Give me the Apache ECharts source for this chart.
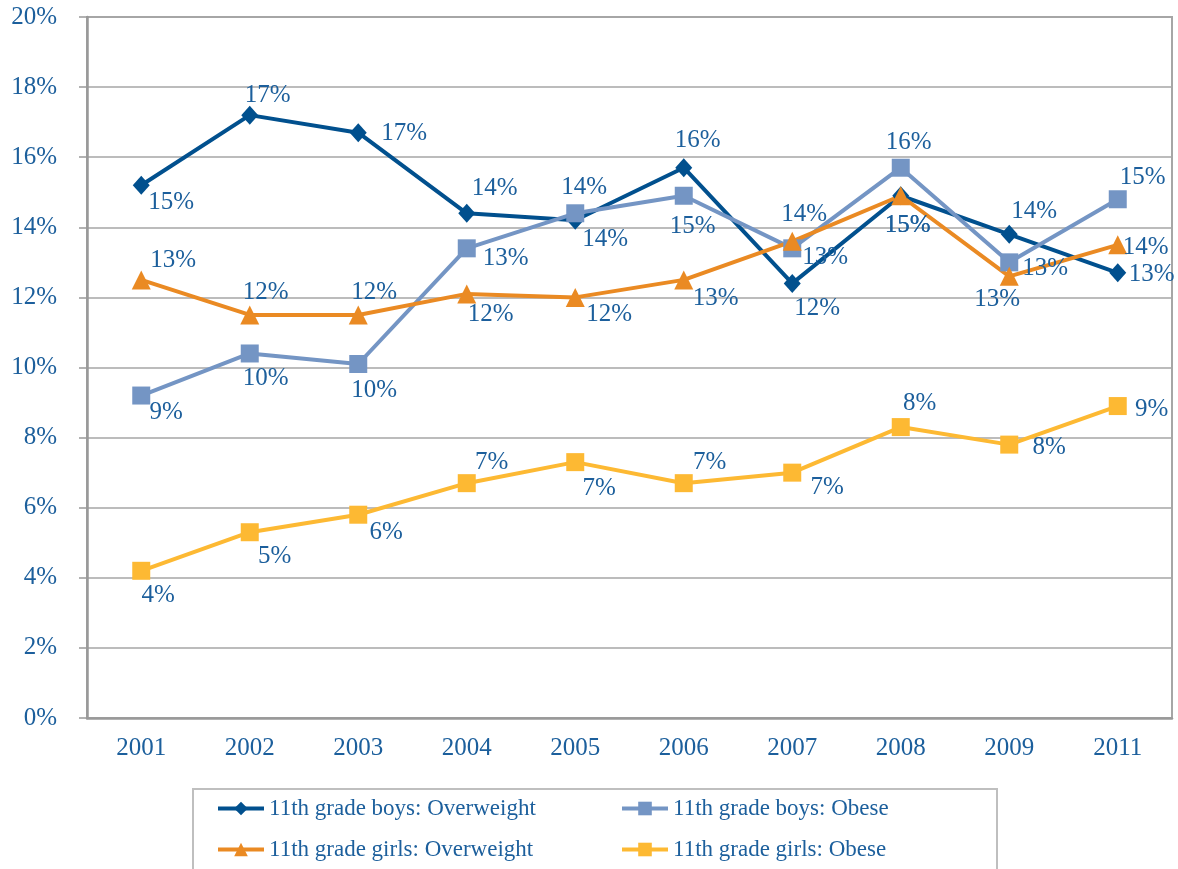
<!DOCTYPE html>
<html>
<head>
<meta charset="utf-8">
<title>11th grade overweight / obese</title>
<script src="https://cdn.jsdelivr.net/npm/echarts@6/dist/echarts.min.js"></script>
<style>
  html, body { margin: 0; padding: 0; background: #fff; }
  #chart { width: 1178px; height: 869px; }
</style>
</head>
<body>
<div id="chart"></div>
<script>
var years = ['2001', '2002', '2003', '2004', '2005', '2006', '2007', '2008', '2009', '2011'];
var yTicks = [0, 2, 4, 6, 8, 10, 12, 14, 16, 18, 20];

var boysOverweight  = [15.2, 17.2, 16.7, 14.4, 14.2, 15.7, 12.4, 14.9, 13.8, 12.7];
var boysObese       = [9.2, 10.4, 10.1, 13.4, 14.4, 14.9, 13.4, 15.7, 13.0, 14.8];
var girlsOverweight = [12.5, 11.5, 11.5, 12.1, 12.0, 12.5, 13.6, 14.9, 12.6, 13.5];
var girlsObese      = [4.2, 5.3, 5.8, 6.7, 7.3, 6.7, 7.0, 8.3, 7.8, 8.9];

var nameBoysOw  = '11th grade boys: Overweight';
var nameBoysOb  = '11th grade boys: Obese';
var nameGirlsOw = '11th grade girls: Overweight';
var nameGirlsOb = '11th grade girls: Obese';

// where each value label sits, relative to its marker (px)
var offBoysOw  = [[30,17],[18,-20],[46,1],[28,-25],[30,19],[14,-27],[25,25],[7,30],[25,-23],[34,2]];
var offBoysOb  = [[25,17],[16,25],[16,26],[39,10],[9,-26],[9,31],[33,9],[8,-25],[36,6],[25,-22]];
var offGirlsOw = [[32,-19],[16,-22],[16,-22],[24,21],[34,17],[32,19],[12,-27],[7,30],[-12,23],[28,3]];
var offGirlsOb = [[17,25],[25,24],[28,18],[25,-21],[24,26],[26,-21],[35,15],[19,-24],[40,3],[34,3]];

var textBlue = '#1c5f9c';
var font = '"Liberation Serif", "DejaVu Serif", serif';

function withLabels(values, offsets){
  var out = [];
  for(var i=0;i<values.length;i++){
    out.push({value: values[i], label: {offset: offsets[i]}});
  }
  return out;
}

function makeSeries(name, values, offsets, color, symbol, size){
  return {
    name: name,
    type: 'line',
    data: withLabels(values, offsets),
    symbol: symbol,
    symbolSize: size,
    lineStyle: {color: color, width: 4},
    itemStyle: {color: color},
    label: {
      show: true,
      position: 'inside',
      align: 'center',
      verticalAlign: 'middle',
      color: textBlue,
      fontFamily: font,
      fontSize: 25,
      formatter: function(p){ return Math.round(p.value) + '%'; }
    },
    emphasis: {disabled: true},
    animation: false
  };
}

// two legend columns, same look
function makeLegend(left, names){
  return {
    left: left, top: 797,
    orient: 'vertical',
    padding: 0,
    itemGap: 18,
    itemWidth: 46,
    itemHeight: 17,
    lineStyle: {width: 4},
    textStyle: {color: textBlue, fontFamily: font, fontSize: 23},
    data: names
  };
}

var chart = echarts.init(document.getElementById('chart'));
var option = {
  backgroundColor: '#fff',
  grid: {
    left: 87, right: 6, top: 17, bottom: 151,
    show: true, borderColor: '#a6a6a6', borderWidth: 2
  },
  // legend frame
  graphic: [{
    type: 'rect',
    shape: {x: 193, y: 789, width: 804, height: 100},
    style: {fill: 'none', stroke: '#bfbfbf', lineWidth: 2},
    silent: true
  }],
  legend: [
    makeLegend(216, [nameBoysOw, nameGirlsOw]),
    makeLegend(620, [nameBoysOb, nameGirlsOb])
  ],
  xAxis: {
    type: 'category',
    data: years,
    boundaryGap: true,
    axisLine: {lineStyle: {color: '#999', width: 2.5}},
    axisTick: {alignWithLabel: true, length: 8, lineStyle: {color: '#999', width: 1.5}},
    axisLabel: {color: textBlue, fontFamily: font, fontSize: 25, margin: 18}
  },
  yAxis: {
    type: 'value',
    min: yTicks[0],
    max: yTicks[yTicks.length-1],
    interval: 2,
    axisLine: {show: true, lineStyle: {color: '#999', width: 2.5}},
    axisTick: {show: true, length: 8, lineStyle: {color: '#999', width: 1.5}},
    splitLine: {lineStyle: {color: '#a6a6a6', width: 1.5}},
    axisLabel: {color: textBlue, fontFamily: font, fontSize: 25, margin: 30, formatter: '{value}%'}
  },
  series: [
    makeSeries(nameBoysOw, boysOverweight, offBoysOw, '#01508e', 'diamond', [17, 19]),
    makeSeries(nameBoysOb, boysObese, offBoysOb, '#7495c4', 'rect', 18),
    makeSeries(nameGirlsOw, girlsOverweight, offGirlsOw, '#ea8a23', 'triangle', 19),
    makeSeries(nameGirlsOb, girlsObese, offGirlsOb, '#fdb933', 'rect', 18)
  ]
};
chart.setOption(option);
</script>
</body>
</html>
